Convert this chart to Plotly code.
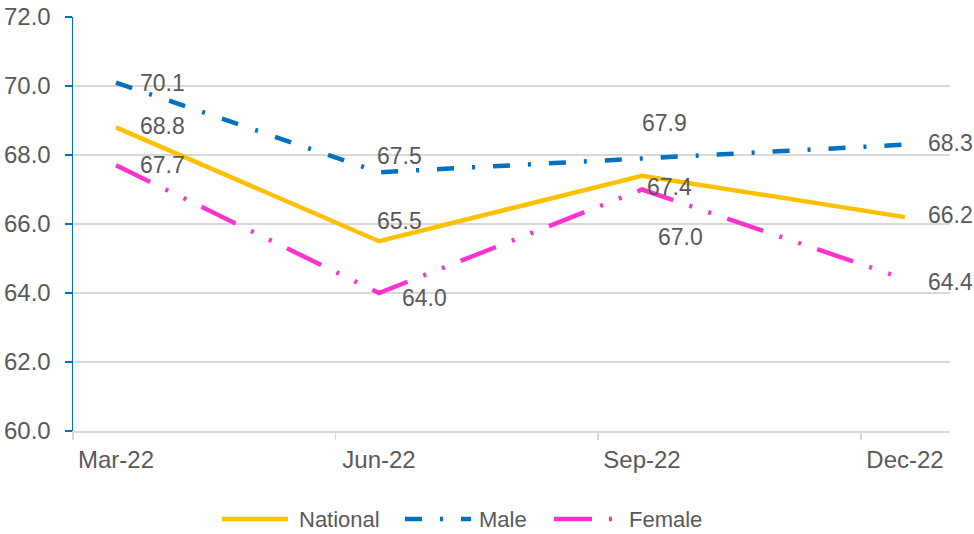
import plotly.graph_objects as go

# ---- data ----
categories = ["Mar-22", "Jun-22", "Sep-22", "Dec-22"]
national = [68.8, 65.5, 67.4, 66.2]
male = [70.1, 67.5, 67.9, 68.3]
female = [67.7, 64.0, 67.0, 64.4]
y_ticks = [60, 62, 64, 66, 68, 70, 72]

# ---- styles ----
C_NAT = "#FFC000"
C_MALE = "#0070C0"
C_FEM = "#FF33CC"
TXT = "#595959"
GRID = "#D9D9D9"
FONT = "Liberation Sans, Arial, sans-serif"
DASH_MALE = "17px,18px,3px,18px"
DASH_FEM = "38px,17px,3px,17px,3px,17px"

# label offsets (px) per series/point: (xshift to left edge, yshift up)
off_nat = [(22, 1), (-4, 20), (3, -11), (21, 2)]
off_male = [(22, 0), (-4, 16), (-2, 35), (21, 2)]
off_fem = [(22, 0), (21, -5), (14, -47), (21, -3)]

W, H = 974, 534
L, R, T, B = 73, 24, 17, 103
plot_w = W - L - R
plot_h = H - T - B
# category spacing ~263px, first category 43px from left edge
x_lo = -43 / 263.0
x_hi = x_lo + plot_w / 263.0

fig = go.Figure()
series = [
    ("National", national, C_NAT, "solid", 4.5, off_nat),
    ("Male", male, C_MALE, DASH_MALE, 4.5, off_male),
    ("Female", female, C_FEM, DASH_FEM, 4.5, off_fem),
]
for name, vals, col, dash, w, offs in series:
    fig.add_trace(go.Scatter(
        x=categories, y=vals, mode="lines", name=name,
        line=dict(color=col, width=w, dash=dash),
        showlegend=False, hoverinfo="skip",
    ))
    for c, v, (dx, dy) in zip(categories, vals, offs):
        fig.add_annotation(
            x=c, y=v, text=f"{v:.1f}", showarrow=False,
            xanchor="left", yanchor="middle", xshift=dx, yshift=dy,
            font=dict(family=FONT, size=23, color=TXT),
        )

# manual legend (line samples + text), in paper coords
def px2x(px):
    return (px - L) / plot_w

def py2y(py):
    return (H - B - py) / plot_h

leg_y = 519
legend_items = [
    ("National", C_NAT, "solid", 222, 288, 297),
    ("Male", C_MALE, DASH_MALE, 405, 471, 477),
    ("Female", C_FEM, DASH_FEM, 554, 620, 627),
]
for name, col, dash, x0, x1, tx in legend_items:
    fig.add_shape(type="line", xref="paper", yref="paper",
                  x0=px2x(x0), x1=px2x(x1), y0=py2y(leg_y), y1=py2y(leg_y),
                  line=dict(color=col, width=4.5, dash=dash))
    fig.add_annotation(xref="paper", yref="paper", x=px2x(tx), y=py2y(leg_y),
                       text=name, showarrow=False, xanchor="left", yanchor="middle",
                       font=dict(family=FONT, size=22, color=TXT))

fig.update_layout(
    width=W, height=H,
    margin=dict(l=L, r=R, t=T, b=B, autoexpand=False),
    paper_bgcolor="white", plot_bgcolor="white",
    font=dict(family=FONT, color=TXT),
    showlegend=False,
    xaxis=dict(
        type="category", range=[x_lo, x_hi], automargin=False,
        showgrid=False, zeroline=False,
        showline=True, linecolor=GRID, linewidth=1.5,
        ticks="", ticklabelstandoff=7,
        tickfont=dict(family=FONT, size=24, color=TXT),
    ),
    xaxis2=dict(
        overlaying="x", anchor="y", type="linear", range=[x_lo, x_hi], automargin=False,
        tickvals=[x_lo + k * (1.0 - 0.0015) for k in range(4)],
        ticks="outside", ticklen=8, tickcolor=GRID, tickwidth=1.5,
        showticklabels=False, showgrid=False, zeroline=False, showline=False,
    ),
    yaxis=dict(
        range=[60, 72], tickvals=y_ticks, tickformat=".1f", automargin=False,
        showgrid=True, gridcolor=GRID, gridwidth=1.5, zeroline=False,
        showline=True, linecolor=C_MALE, linewidth=1.5,
        ticks="outside", ticklen=7, tickcolor=C_MALE, tickwidth=1.5,
        ticklabelstandoff=9,
        tickfont=dict(family=FONT, size=24, color=TXT),
    ),
)
# dummy invisible trace so xaxis2 is rendered
fig.add_trace(go.Scatter(x=[x_lo], y=[60], xaxis="x2", yaxis="y", mode="markers",
                         marker=dict(opacity=0), showlegend=False, hoverinfo="skip"))

fig.write_html(
    "out.html",
    config={"displayModeBar": False, "staticPlot": True},
    post_script="document.body.style.margin='0';document.body.style.overflow='hidden';",
)
